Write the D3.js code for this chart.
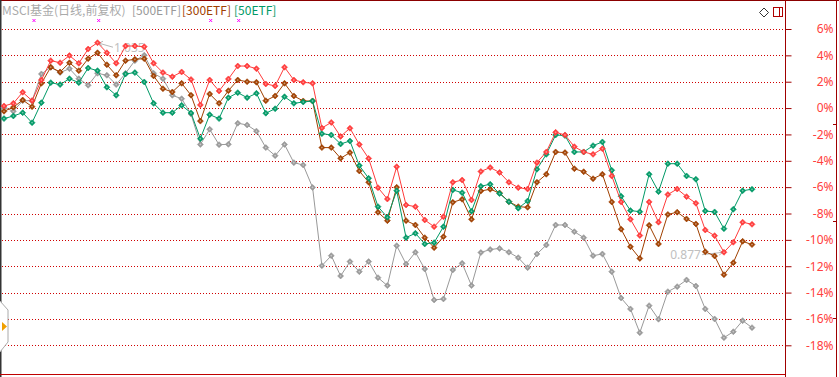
<!DOCTYPE html>
<html>
<head>
<meta charset="utf-8">
<script src="https://cdn.jsdelivr.net/npm/d3@7"></script>
<style>
  html, body { margin: 0; padding: 0; background: #fff; }
  svg { display: block; font-family: "Noto Sans CJK SC", "Noto Sans", sans-serif; }
</style>
</head>
<body>
<div id="chart"></div>
<script>
// trading days shown (index only, no dates on the chart)
const days = d3.range(81);

// % change, main series (MSCI基金, red)
const msci = [0.16,0.36,1.20,0.56,2.13,3.60,3.44,3.98,3.40,4.48,4.96,4.20,3.40,4.71,4.71,4.66,3.40,2.69,2.38,2.74,
  2.17,0.24,2.13,1.30,2.21,3.19,3.19,2.99,1.83,1.68,3.10,2.13,1.96,1.88,-1.51,-1.09,-2.15,-1.53,-2.76,-3.82,
  -6.04,-6.90,-4.45,-7.35,-7.48,-8.49,-9.00,-8.24,-5.63,-5.46,-6.97,-4.81,-4.51,-4.89,-5.63,-6.04,-6.14,-4.14,-3.33,-1.84,
  -2.04,-2.93,-3.33,-3.51,-3.08,-5.15,-7.12,-8.44,-9.67,-7.12,-8.66,-6.56,-6.14,-6.72,-7.22,-9.25,-9.68,-10.94,-10.18,-8.66,-8.82];

// [500ETF] gray
const etf500 = [0.06,-0.24,0.56,0.56,2.59,3.10,2.69,2.99,2.23,1.73,2.64,2.49,1.78,2.64,3.60,4.01,2.64,2.23,0.97,0.71,
  -0.45,-2.76,-1.61,-2.78,-2.75,-1.15,-1.28,-1.75,-3.00,-3.61,-2.76,-4.14,-4.32,-6.02,-11.96,-11.20,-12.74,-11.65,-12.41,-11.65,
  -12.87,-13.47,-10.44,-11.83,-10.94,-12.21,-14.56,-14.48,-12.28,-11.78,-13.47,-10.96,-10.73,-10.65,-10.94,-11.35,-12.11,-11.07,-10.39,-8.87,
  -8.87,-9.38,-9.83,-11.20,-11.07,-12.41,-14.41,-15.24,-17.04,-14.99,-16.02,-13.93,-13.55,-13.04,-13.50,-15.24,-16.00,-17.42,-16.97,-16.13,-16.66];

// [300ETF] brown
const etf300 = [-0.24,0.06,0.61,0.11,1.88,3.10,2.74,3.44,2.84,3.75,4.20,3.29,2.49,3.60,3.70,3.75,2.44,1.47,1.22,1.88,
  0.98,-0.99,1.07,0.36,1.32,2.13,2.00,1.96,0.56,0.92,1.88,0.92,0.54,0.54,-3.00,-3.00,-3.81,-3.38,-4.77,-5.63,
  -7.91,-8.54,-6.01,-8.54,-8.87,-9.83,-10.59,-9.76,-7.15,-6.92,-8.44,-6.29,-6.16,-6.44,-7.10,-7.48,-7.53,-5.63,-5.02,-3.33,
  -3.38,-4.60,-4.83,-5.36,-5.02,-7.12,-9.19,-10.52,-11.41,-8.89,-10.31,-8.07,-7.90,-8.41,-8.79,-10.90,-11.22,-12.64,-11.73,-10.11,-10.36];

// [50ETF] green
const etf50 = [-0.80,-0.60,-0.35,-1.11,0.41,1.93,1.78,2.23,1.93,3.04,2.84,1.58,0.97,2.59,2.69,1.98,0.36,-0.35,-0.35,0.21,
  -0.37,-2.32,-0.50,-0.80,0.79,1.17,0.79,1.12,-0.39,-0.05,0.86,0.36,0.46,0.54,-1.94,-2.04,-2.72,-2.50,-4.36,-5.33,
  -7.48,-8.29,-6.27,-9.83,-9.50,-10.31,-10.21,-9.00,-6.21,-6.42,-7.83,-5.93,-5.78,-6.49,-7.10,-7.60,-7.05,-4.64,-3.51,-2.04,
  -2.09,-3.33,-3.33,-2.85,-2.57,-4.72,-6.69,-7.78,-7.86,-5.02,-6.34,-4.22,-4.22,-5.15,-5.40,-7.81,-7.88,-9.15,-7.68,-6.27,-6.16];

const yTicks = [6, 4, 2, 0, -2, -4, -6, -8, -10, -12, -14, -16, -18];

// max / min labels of the main series
const highLabel = "1.035";
const lowLabel = "0.877";

const width = 839, height = 377;
const axisX = 785;

const svg = d3.select('#chart').append('svg')
    .attr('width', width)
    .attr('height', height);

const x = d3.scalePoint()
    .domain(days)
    .range([4, 752]);

const y = d3.scaleLinear()
    .domain([-18, 6])
    .range([345.3, 29]);

// dotted grid lines
svg.append('g').selectAll('line')
    .data(yTicks)
  .join('line')
    .attr('x1', 2)
    .attr('x2', axisX)
    .attr('y1', d => Math.round(y(d)) + 0.5)
    .attr('y2', d => Math.round(y(d)) + 0.5)
    .attr('stroke', '#d00000')
    .attr('stroke-dasharray', '1,2')
    .attr('shape-rendering', 'crispEdges');

// frame
svg.append('line').attr('x1', 0).attr('x2', width).attr('y1', 0.5).attr('y2', 0.5)
    .attr('stroke', '#8b0000');
svg.append('line').attr('x1', 0.5).attr('x2', 0.5).attr('y1', 0).attr('y2', height)
    .attr('stroke', '#333').attr('stroke-width', 2);
svg.append('line').attr('x1', 0).attr('x2', axisX).attr('y1', 374.5).attr('y2', 374.5)
    .attr('stroke', '#c00000');
svg.append('line').attr('x1', 836.5).attr('x2', 836.5).attr('y1', 0).attr('y2', height)
    .attr('stroke', '#a00000');
[124, 221, 318].forEach(t => {
  svg.append('line').attr('x1', 833).attr('x2', 837).attr('y1', t + 0.5).attr('y2', t + 0.5)
      .attr('stroke', '#a00000');
});

// right axis
const yAxis = d3.axisRight(y)
    .tickValues(yTicks)
    .tickSize(6)
    .tickFormat(d => d + '%');

const axisG = svg.append('g')
    .attr('transform', `translate(${axisX + 0.5},0)`)
    .call(yAxis);
axisG.select('.domain')
    .attr('d', `M0,0V${height}`)
    .attr('stroke', '#a00000');
axisG.selectAll('.tick line').attr('stroke', '#a00000');
axisG.selectAll('.tick text')
    .attr('x', 48)
    .attr('text-anchor', 'end')
    .attr('fill', '#ff4040')
    .style('font-size', '12px')
    .style('font-family', '"Noto Sans", sans-serif');

// high / low annotations (drawn under the series)
const hiI = msci.indexOf(d3.max(msci));
const loI = msci.indexOf(d3.min(msci));
const annot = svg.append('g').attr('stroke', '#b8b8b8').attr('fill', 'none');
const hx = x(days[hiI]) + 1.5, hy = y(msci[hiI]) + 0.5;
annot.append('path').attr('d', `M${hx},${hy}L${hx + 14},${hy + 4}M${hx},${hy}L${hx + 4},${hy - 2}M${hx},${hy}L${hx + 3},${hy + 3}`);
svg.append('text')
    .attr('x', hx + 15)
    .attr('y', hy + 9)
    .attr('fill', '#c0c0c0')
    .style('font-size', '12px')
    .style('font-family', '"Noto Sans", sans-serif')
    .text(highLabel);
const lx = x(days[loI]) - 1, ly = y(msci[loI]);
annot.append('path').attr('d', `M${lx - 21},${ly + 2.5}L${lx},${ly}M${lx},${ly}L${lx - 4},${ly - 2}M${lx},${ly}L${lx - 4},${ly + 3}`);
svg.append('text')
    .attr('x', lx - 22)
    .attr('y', ly + 7)
    .attr('text-anchor', 'end')
    .attr('fill', '#c0c0c0')
    .style('font-size', '12px')
    .style('font-family', '"Noto Sans", sans-serif')
    .text(lowLabel);

// series
const series = [
  {name: '[500ETF]', values: etf500, color: '#999999'},
  {name: '[300ETF]', values: etf300, color: '#a04000'},
  {name: '[50ETF]', values: etf50, color: '#009966'},
  {name: 'MSCI基金', values: msci, color: '#ff3b3b'}
];

const line = d3.line()
    .x((d, i) => x(days[i]))
    .y(d => y(d));

const diamond = 'M0,-3L3,0L0,3L-3,0Z';

series.forEach(s => {
  const g = svg.append('g');
  g.append('path')
      .datum(s.values)
      .attr('d', line)
      .attr('fill', 'none')
      .attr('stroke', s.color)
      .attr('stroke-width', 1);
  const pts = g.selectAll('g.pt')
      .data(s.values)
    .join('g')
      .attr('class', 'pt')
      .attr('transform', (d, i) => `translate(${x(days[i])},${y(d)})`);
  pts.append('path')
      .attr('d', diamond)
      .attr('fill', s.color)
      .attr('stroke', s.color)
      .attr('stroke-width', 0.6);
  pts.append('path')
      .attr('d', 'M0,-1.1L1.1,0L0,1.1L-1.1,0Z')
      .attr('fill', '#fff')
      .attr('opacity', 0.45);
});

// legend
const legend = [
  {text: 'MSCI基金(日线,前复权)', x: 2, color: '#aaaaaa'},
  {text: '[500ETF]', x: 132, color: '#999999'},
  {text: '[300ETF]', x: 182, color: '#a04000'},
  {text: '[50ETF]', x: 234, color: '#009966'}
];
svg.append('g').selectAll('text')
    .data(legend)
  .join('text')
    .attr('x', d => d.x)
    .attr('y', 15)
    .attr('fill', d => d.color)
    .style('font-size', '12px')
    .text(d => d.text);

// little markers under the legend
svg.append('g').selectAll('path')
    .data([34, 98.7, 210.7, 238.7])
  .join('path')
    .attr('d', d => `M${d - 1.5},19L${d + 1.5},22M${d + 1.5},19L${d - 1.5},22`)
    .attr('stroke', '#ff00ff');

// top-right buttons
svg.append('path')
    .attr('d', 'M764,8L768.5,12.5L764,17L759.5,12.5Z')
    .attr('fill', 'none')
    .attr('stroke', '#333');
svg.append('rect')
    .attr('x', 773.5).attr('y', 7.5).attr('width', 9).attr('height', 9)
    .attr('fill', 'none').attr('stroke', '#b00000');
svg.append('line')
    .attr('x1', 779.5).attr('x2', 779.5).attr('y1', 7.5).attr('y2', 16.5)
    .attr('stroke', '#b00000');

// left scroll handle
svg.append('path')
    .attr('d', 'M0,301L8,310L8,342L0,352')
    .attr('fill', '#fff')
    .attr('stroke', '#aaa');
svg.append('path')
    .attr('d', 'M2,322L7,326.5L2,331Z')
    .attr('fill', '#f0a000');
</script>
</body>
</html>
